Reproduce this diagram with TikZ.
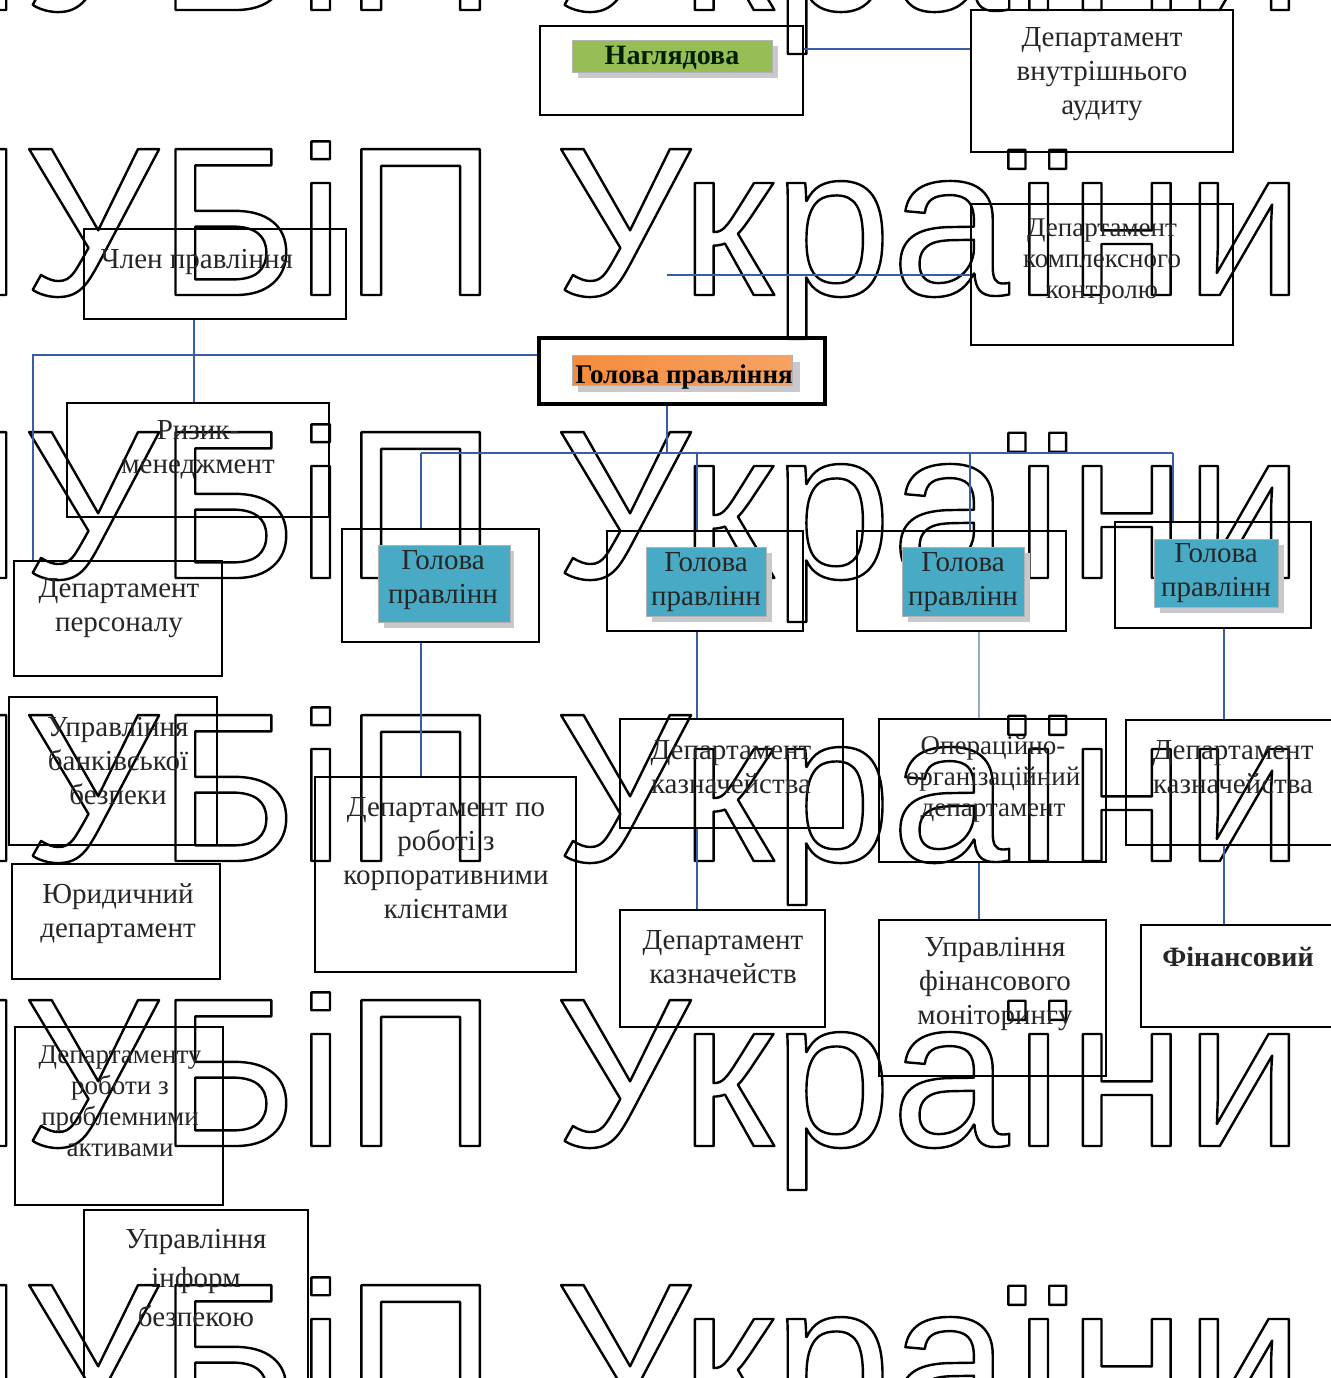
\documentclass[tikz,border=0pt]{standalone}
\usepackage{fontspec}
\setmainfont{Liberation Serif}
\newfontfamily\wmfont{Liberation Sans}
\usetikzlibrary{fit}
\definecolor{lineblue}{RGB}{58,94,165}
\definecolor{lightblue}{RGB}{150,172,205}
\definecolor{greenfill}{RGB}{150,190,85}
\definecolor{tealfill}{RGB}{72,170,196}
\definecolor{orangefill}{RGB}{245,140,60}
\definecolor{shadowgray}{RGB}{200,200,205}
\newcommand{\outlinetext}[1]{\special{pdf:literal direct 1 Tr 1.2 w 1 j}#1\special{pdf:literal direct 0 Tr}}
\tikzset{
  box/.style={draw=black, line width=1pt, inner sep=0pt},
  thickbox/.style={draw=black, line width=2.4pt, inner sep=0pt},
  conn/.style={draw=lineblue, line width=0.7pt},
  connlight/.style={draw=lightblue, line width=0.7pt},
  lbl/.style={align=center, inner sep=0pt, font=\fontsize{14.5}{17}\selectfont, text=black!85},
  lblsmall/.style={align=center, inner sep=0pt, font=\fontsize{13.5}{15.5}\selectfont, text=black!85},
  inner/.style={inner sep=0pt, draw=black!30, line width=0.3pt},
  shadowr/.style={fill=shadowgray, draw=none, inner sep=0pt},
  wm/.style={anchor=base west, inner sep=0pt, font=\wmfont\fontsize{106}{106}\selectfont}
}
\begin{document}
\begin{tikzpicture}[x=0.5pt,y=-0.5pt]
\useasboundingbox (0,0) rectangle (1331,1378);
\clip (0,0) rectangle (1331,1378);
\fill[white] (0,0) rectangle (1331,1378);
% watermark
\foreach \yy [count=\i] in {10,295,578,861,1146,1431}
  \node[wm] (wm\i) at (-130,\yy) {\outlinetext{НУБіП України}};

% ---------- top ----------
\node[box, fit={(540,26) (803,115)}] (nagl) {};
\node[shadowr, fit={(578,46) (778,78)}] (naglsh) {};
\node[inner, fill=greenfill, fit={(572,40) (772,72)}] (naglin) {};
\node[lbl, font=\bfseries\fontsize{14}{16}\selectfont, text=black!80!green!60!black] (nagltxt) at (672,58) {Наглядова};

\node[box, fit={(971,10) (1233,152)}] (audit) {};
\node[lbl] (audittxt) at (1102,74) {Департамент\\внутрішнього\\аудиту};

\node[box, fit={(971,204) (1233,345)}] (kontr) {};
\node[lblsmall] (kontrtxt) at (1102,262) {Департамент\\комплексного\\контролю};

\node[box, fit={(84,229) (346,319)}] (chlen) {};
\node[lbl] (chlentxt) at (197,262) {Член правління};

\node[thickbox, fit={(539,338) (825,404)}] (holova) {};
\node[shadowr, fit={(578,362) (800,392)}] (holovash) {};
\node[inner, left color=orangefill, right color=orangefill!80!white, fit={(572,355) (792,385)}] (holovain) {};
\node[lbl, font=\bfseries\fontsize{13.5}{16}\selectfont, text=black] (holovatxt) at (684,377) {Голова правління};

\node[box, fit={(67,403) (329,517)}] (ryzyk) {};
\node[lbl] (ryzyktxt) at (198,450) {Ризик-\\менеджмент};

% ---------- heads ----------
\node[box, fit={(342,529) (539,642)}] (h1) {};
\node[shadowr, fit={(384,551) (514,628)}] (h1sh) {};
\node[inner, fill=tealfill, fit={(378,545) (510,622)}] (h1in) {};
\node[lbl] (h1txt) at (443,580) {Голова\\правлінн};

\node[box, fit={(607,531) (803,631)}] (h2) {};
\node[shadowr, fit={(652,553) (772,622)}] (h2sh) {};
\node[inner, fill=tealfill, fit={(646,547) (766,616)}] (h2in) {};
\node[lbl] (h2txt) at (706,582) {Голова\\правлінн};

\node[box, fit={(857,531) (1066,631)}] (h3) {};
\node[shadowr, fit={(908,553) (1030,622)}] (h3sh) {};
\node[inner, fill=tealfill, fit={(902,547) (1024,616)}] (h3in) {};
\node[lbl] (h3txt) at (963,582) {Голова\\правлінн};

\node[box, fit={(1115,522) (1311,628)}] (h4) {};
\node[shadowr, fit={(1160,545) (1284,613)}] (h4sh) {};
\node[inner, fill=tealfill, fit={(1154,539) (1278,607)}] (h4in) {};
\node[lbl] (h4txt) at (1216,573) {Голова\\правлінн};

% ---------- left column ----------
\node[box, fit={(14,561) (222,676)}] (pers) {};
\node[lbl] (perstxt) at (119,608) {Департамент\\персоналу};

\node[box, fit={(9,697) (217,845)}] (bezp) {};
\node[lbl] (bezptxt) at (118,761) {Управління\\банківської\\безпеки};

\node[box, fit={(12,864) (220,979)}] (yur) {};
\node[lbl, font=\fontsize{14.5}{17}\selectfont] (yurtxt) at (118,914) {Юридичний\\департамент};

\node[box, fit={(15,1027) (223,1205)}] (aktyv) {};
\node[lblsmall] (aktyvtxt) at (120,1101) {Департаменту\\роботи з\\проблемними\\активами};

\node[box, fit={(84,1210) (308,1390)}] (inform) {};
\node[lbl, font=\fontsize{14.5}{19.5}\selectfont] (informtxt) at (196,1278) {Управління\\інформ\\безпекою};

% ---------- lower row ----------
\node[box, fit={(315,777) (576,972)}] (korp) {};
\node[lbl] (korptxt) at (446,858) {Департамент по\\роботі з\\корпоративними\\клієнтами};

\node[box, fit={(620,719) (843,828)}] (kazn1) {};
\node[lbl] (kazn1txt) at (731,767) {Департамент\\казначейства};

\node[box, fit={(879,719) (1106,862)}] (oper) {};
\node[lblsmall] (opertxt) at (993,779) {Операційно-\\організаційний\\департамент};

\node[box, fit={(1126,720) (1345,845)}] (kazn2) {};
\node[lbl] (kazn2txt) at (1233,767) {Департамент\\казначейства};

\node[box, fit={(620,910) (825,1027)}] (kazn3) {};
\node[lbl] (kazn3txt) at (723,957) {Департамент\\казначейств};

\node[box, fit={(879,920) (1106,1076)}] (monit) {};
\node[lbl] (monittxt) at (995,984) {Управління\\фінансового\\моніторингу};

\node[box, fit={(1141,925) (1345,1027)}] (fin) {};
\node[lbl, font=\bfseries\fontsize{14}{17}\selectfont] (fintxt) at (1238,957) {Фінансовий};

% ---------- connectors ----------
\draw[conn] (nagl.east |- 0,49) -- (audit.west |- 0,49);
\coordinate (kfree) at (667,275);
\draw[conn] (kfree) -- (kontr.west |- kfree);
\draw[conn] (chlen.south -| 194,0) -- (ryzyk.north -| 194,0);
\draw[conn] (holova.west |- 0,355) -- (33,355) -- (pers.north -| 33,0);
\coordinate (hbus) at (667,453);
\draw[conn] (holova.south -| hbus) -- (hbus);
\draw[conn] (421,453) -- (1173,453);
\draw[conn] (421,453) -- (h1.north -| 421,0);
\draw[conn] (697,453) -- (h2.north -| 697,0);
\draw[conn] (970,453) -- (h3.north -| 970,0);
\draw[conn] (1173,453) -- (h4.north -| 1173,0);
\draw[conn] (h1.south -| 421,0) -- (korp.north -| 421,0);
\draw[conn] (h2.south -| 697,0) -- (kazn1.north -| 697,0);
\draw[conn] (kazn1.south -| 697,0) -- (kazn3.north -| 697,0);
\draw[connlight] (h3.south -| 979,0) -- (oper.north -| 979,0);
\draw[conn] (oper.south -| 979,0) -- (monit.north -| 979,0);
\draw[conn] (h4.south -| 1224,0) -- (kazn2.north -| 1224,0);
\draw[conn] (kazn2.south -| 1224,0) -- (fin.north -| 1224,0);
\end{tikzpicture}
\end{document}
